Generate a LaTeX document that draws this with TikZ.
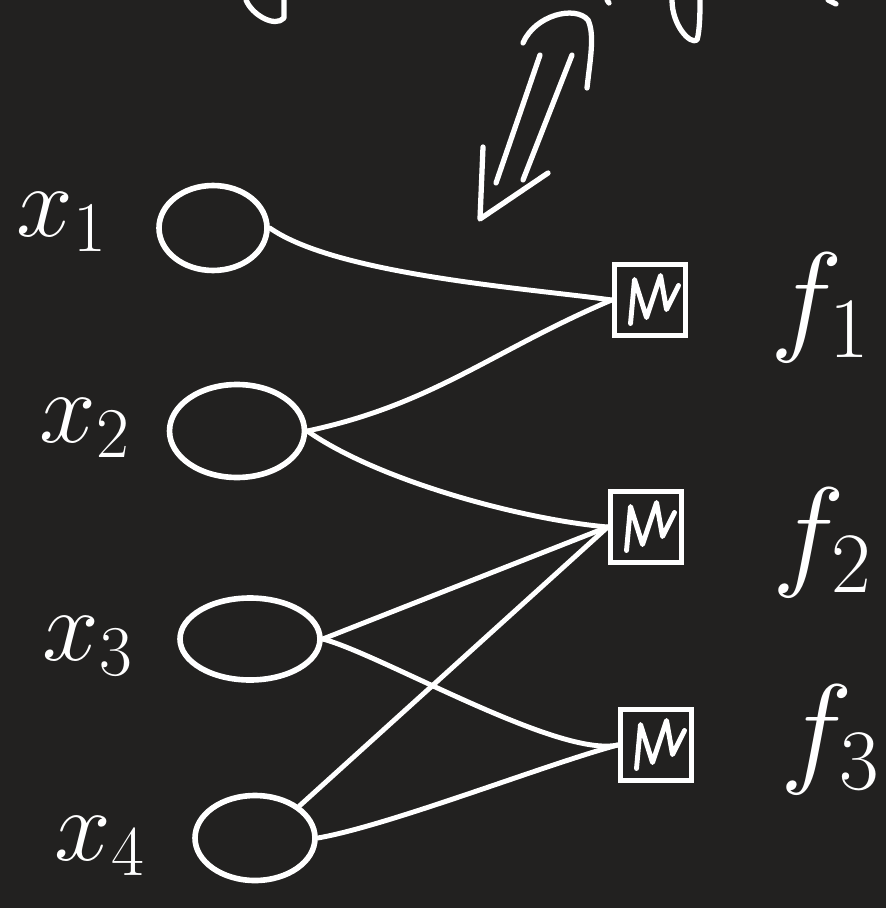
\RequirePackage{fix-cm}
\documentclass[tikz,border=0pt]{standalone}
\usepackage{tikz}
\usetikzlibrary{arrows.meta,shapes.geometric,calc}
\definecolor{board}{HTML}{222120}
\definecolor{chalk}{HTML}{FFFFFF}
\tikzset{
  varnode/.style={draw=chalk,ellipse,line width=3.2pt,inner sep=0pt},
  factor/.style={draw=chalk,line width=3.2pt,minimum size=1.42cm,inner sep=0pt,
    path picture={\draw[chalk,line width=2.8pt,line join=round,line cap=round]
      ($(path picture bounding box.south west)+(16,12)$) -- ++(4,44) -- ++(12,-38)
      -- ++(14,42) -- ++(6,-34) -- ++(12,24);}},
  wire/.style={draw=chalk,line width=2.8pt,line cap=round},
  varlabel/.style={text=chalk,font=\fontsize{58}{58}\selectfont},
  funlabel/.style={text=chalk,font=\fontsize{70}{70}\selectfont},
  scrawl/.style={draw=chalk,line width=3pt,line cap=round,line join=round}
}
\begin{document}
\begin{tikzpicture}[x=0.02cm,y=0.02cm]
  \fill[board] (0,0) rectangle (886,-908);
  \useasboundingbox (0,0) rectangle (886,-908);

  \node[varnode,minimum width=2.16cm,minimum height=1.7cm] (x1) at (213,-228) {};
  \node[varnode,minimum width=2.7cm,minimum height=1.86cm] (x2) at (237,-431) {};
  \node[varnode,minimum width=2.8cm,minimum height=1.64cm] (x3) at (250,-639) {};
  \node[varnode,minimum width=2.4cm,minimum height=1.7cm] (x4) at (255,-838) {};

  \node[factor] (f1) at (650,-300) {};
  \node[factor] (f2) at (646,-527) {};
  \node[factor] (f3) at (656,-745) {};

  \node[varlabel] (lx1) at (62,-222) {$x_1$};
  \node[varlabel] (lx2) at (85,-428) {$x_2$};
  \node[varlabel] (lx3) at (88,-646) {$x_3$};
  \node[varlabel] (lx4) at (100,-846) {$x_4$};
  \node[funlabel] (lf1) at (820,-308) {$f_1$};
  \node[funlabel] (lf2) at (822,-543) {$f_2$};
  \node[funlabel] (lf3) at (830,-740) {$f_3$};

  \draw[wire] (x1.east) to[out=-35,in=172,looseness=0.6] (f1.west);
  \draw[wire] (x2.east) to[out=12,in=203] (f1.west);
  \draw[wire] (x2.east) to[out=-35,in=175,looseness=0.7] (f2.west);
  \draw[wire] (x3.east) -- (f2.west);
  \draw[wire] (x3.east) to[out=-15,in=192,looseness=0.5] (f3.west);
  \draw[wire] (x4.north east) -- (f2.west);
  \draw[wire] (x4.east) to[out=10,in=195,looseness=0.6] (f3.west);

  \coordinate (tip) at (480,-219);
  \draw[scrawl] (540,-55) -- (496,-183);
  \draw[scrawl] (572,-55) -- (523,-180);
  \draw[scrawl] (483,-147) -- (tip) -- (548,-173);
  \draw[scrawl] (523,-43) .. controls (535,-15) and (575,-5) .. (588,-20)
    .. controls (595,-35) and (590,-60) .. (587,-88);

  \draw[scrawl] (246,0) .. controls (252,-15) and (275,-28) .. (284,-18) -- (284,0);
  \draw[scrawl] (672,0) .. controls (672,-25) and (690,-45) .. (697,-40)
    .. controls (700,-30) and (700,-10) .. (700,0);
  \draw[scrawl] (607,0) -- (609,-3);
  \draw[scrawl] (828,0) -- (836,-4);
\end{tikzpicture}
\end{document}
